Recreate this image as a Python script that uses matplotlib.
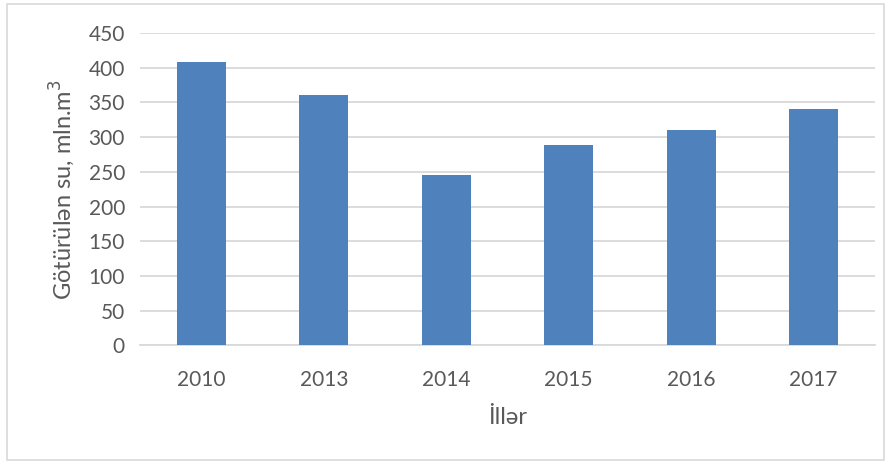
import numpy as np
import matplotlib
matplotlib.use('Agg')
import matplotlib.pyplot as plt
from matplotlib.patches import Rectangle

years = ['2010', '2013', '2014', '2015', '2016', '2017']
water = [408, 361, 245, 289, 310, 341]

plt.rcParams['font.family'] = ['Lato', 'DejaVu Sans']

fig = plt.figure(figsize=(8.91, 4.65), dpi=100)
ax = fig.add_axes([0.1574, 0.2574, 0.8243, 0.6716])

x = np.arange(len(years))
ax.bar(x, water, width=0.4, color='#4f81bd', zorder=3)

ax.set_xlim(-0.5, len(years) - 0.5)
ax.set_ylim(0, 450)
ax.set_yticks(np.arange(0, 451, 50))
ax.set_xticks(x)
ax.set_xticklabels(years)
ax.yaxis.grid(True, color='#d9d9d9', linewidth=1.3, zorder=0)
ax.tick_params(axis='both', length=0, labelsize=15, colors='#595959')
ax.tick_params(axis='x', pad=18)
ax.tick_params(axis='y', pad=11)
for s in ['top', 'right', 'left']:
    ax.spines[s].set_visible(False)
ax.spines['bottom'].set_color('#d9d9d9')
ax.spines['bottom'].set_linewidth(1.3)

ax.set_xlabel('İllər', fontsize=17, color='#595959', labelpad=12)
ax.set_ylabel('Götürülən su, mln.m$^3$', fontsize=17, color='#595959', labelpad=8)

fig.patches.append(Rectangle((7 / 891, 1 - 460 / 465), 877 / 891, 456 / 465,
                             transform=fig.transFigure, fill=False,
                             edgecolor='#d9d9d9', linewidth=1.2))

fig.savefig('out.png', dpi=100)
